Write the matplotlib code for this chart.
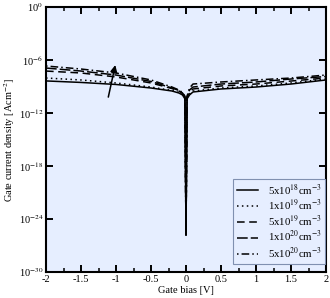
import numpy as np
import matplotlib
matplotlib.use("Agg")
import matplotlib.pyplot as plt
from matplotlib.ticker import MultipleLocator, FixedLocator, FuncFormatter

plt.rcParams['font.family'] = ['Liberation Serif', 'DejaVu Serif']
plt.rcParams['mathtext.fontset'] = 'stix'
plt.rcParams['axes.unicode_minus'] = False

# gate bias points [V]
bias = [-2, -1.5, -1, -0.5, -0.2, -0.1, -0.05, -0.015, 0,
        0.015, 0.05, 0.1, 0.5, 1, 1.5, 2]

# log10 of gate current density [A/cm2]
logj_5e18 = [-8.37, -8.54, -8.77, -9.17, -9.51, -9.74, -9.96, -10.4, -25.8,
             -10.4, -9.96, -9.62, -9.28, -9.06, -8.72, -8.26]
logj_1e19 = [-8.04, -8.26, -8.60, -9.06, -9.45, -9.68, -9.90, -10.3, -25.8,
             -10.3, -9.85, -9.51, -9.17, -8.94, -8.60, -8.15]
logj_5e19 = [-7.25, -7.47, -7.92, -8.60, -9.23, -9.51, -9.79, -10.2, -25.8,
             -10.2, -9.62, -9.28, -8.94, -8.72, -8.38, -8.04]
logj_1e20 = [-6.91, -7.25, -7.70, -8.43, -9.17, -9.45, -9.74, -10.2, -25.8,
             -10.2, -9.40, -9.06, -8.72, -8.49, -8.15, -7.87]
logj_5e20 = [-6.68, -7.02, -7.47, -8.26, -9.06, -9.40, -9.68, -10.1, -25.8,
             -10.1, -9.17, -8.72, -8.49, -8.26, -8.04, -7.70]

labels = [r'5x10$^{18}$cm$^{-3}$', r'1x10$^{19}$cm$^{-3}$', r'5x10$^{19}$cm$^{-3}$',
          r'1x10$^{20}$cm$^{-3}$', r'5x10$^{20}$cm$^{-3}$']
series = [logj_5e18, logj_1e19, logj_5e19, logj_1e20, logj_5e20]
styles = ['-', (0, (1, 2.2)), (0, (5, 3)), (0, (7, 2)), (0, (1, 2, 5, 2))]

bg = '#e6eeff'

fig = plt.figure(figsize=(3.30, 2.98), dpi=100)
ax = fig.add_axes([46/330, 26/298, 280/330, 265/298])
ax.set_facecolor(bg)

for lj, ls, lab in zip(series, styles, labels):
    ax.plot(bias, 10**np.array(lj), color='black', ls=ls, lw=1.1, label=lab)

ax.set_yscale('log')
ax.set_xlim(-2, 2)
ax.set_ylim(1e-30, 1e0)
ax.xaxis.set_major_locator(MultipleLocator(0.5))
ax.xaxis.set_minor_locator(MultipleLocator(0.25))
ax.xaxis.set_major_formatter(FuncFormatter(lambda v, p: '%g' % v))
ax.yaxis.set_major_locator(FixedLocator([10.0**k for k in range(-30, 1, 6)]))
ax.yaxis.set_minor_locator(FixedLocator([]))
ax.yaxis.set_major_formatter(FuncFormatter(lambda v, p: r'10$^{%d}$' % round(np.log10(v))))

ax.tick_params(which='both', direction='in', top=True, right=True, labelsize=7.5,
               pad=2)
ax.tick_params(which='major', length=5, width=1.4)
ax.tick_params(which='minor', length=3, width=1.1)
for s in ax.spines.values():
    s.set_linewidth(1.5)

ax.set_xlabel('Gate bias [V]', fontsize=7.5, labelpad=1.5)
ax.set_ylabel(r'Gate current density [Acm$^{-2}$]', fontsize=7.5, labelpad=1)

# arrow: increasing doping
ax.annotate('', xy=(-1.01, 10**-6.57), xytext=(-1.11, 10**-10.2),
            arrowprops=dict(arrowstyle='-|>', color='black', lw=1.1,
                            mutation_scale=10, shrinkA=0, shrinkB=0))

leg = ax.legend(loc='lower right', bbox_to_anchor=(0.997, 0.03), borderaxespad=0,
                fontsize=7.8, handlelength=2.0, labelspacing=0.12,
                fancybox=False, facecolor=bg, edgecolor='#8090b0', framealpha=1,
                borderpad=0.3, handletextpad=0.9)
leg.get_frame().set_linewidth(0.8)

fig.savefig('out.png', dpi=100)
